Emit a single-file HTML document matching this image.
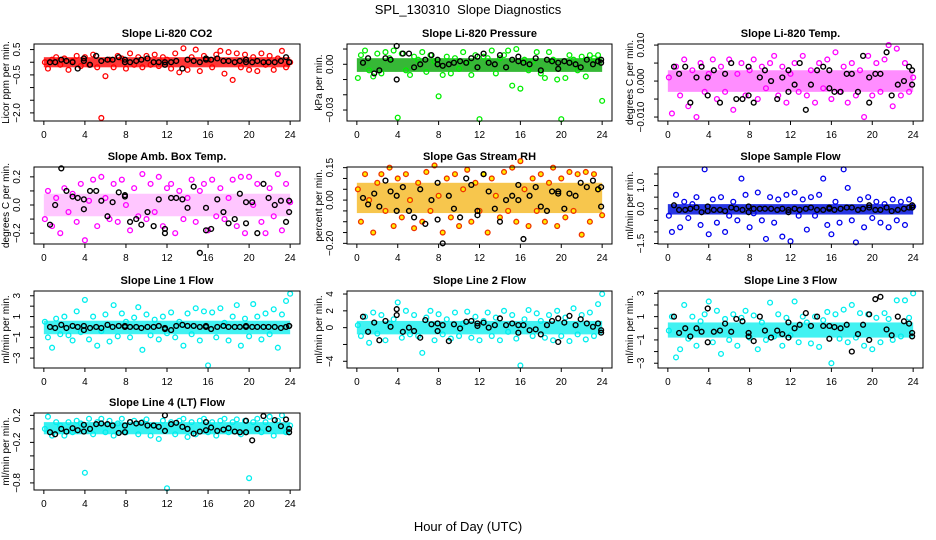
<!DOCTYPE html>
<html><head><meta charset="utf-8"><style>
body{margin:0;background:#fff;}
svg{display:block;font-family:"Liberation Sans",Arial,sans-serif;}
</style></head><body>
<svg id="chart" width="936" height="540" viewBox="0 0 936 540" xmlns="http://www.w3.org/2000/svg">
<rect width="936" height="540" fill="#fff"/>
<text x="468" y="14" text-anchor="middle" font-size="13">SPL_130310&#160; Slope Diagnostics</text>
<text x="468" y="531" text-anchor="middle" font-size="13">Hour of Day (UTC)</text>
</svg>
<script>
const xTicks = [0,4,8,12,16,20,24];
const colorHours = [0.1,0.4,0.8,1.2,1.6,2.0,2.4,2.8,3.2,3.6,4.0,4.4,4.8,5.2,5.6,6.0,6.4,6.8,7.2,7.6,8.0,8.4,8.8,9.2,9.6,10.0,10.4,10.8,11.2,11.6,12.0,12.4,12.8,13.2,13.6,14.0,14.4,14.8,15.2,15.6,16.0,16.4,16.8,17.2,17.6,18.0,18.4,18.8,19.2,19.6,20.0,20.4,20.8,21.2,21.6,22.0,22.4,22.8,23.2,23.6,24.0];
const blackHours = [0.6,1.1,1.7,2.2,2.8,3.3,3.9,3.9,4.5,5.1,5.6,6.2,6.7,7.3,7.9,7.9,8.4,9.0,9.5,10.1,10.7,11.2,11.8,11.8,12.4,12.9,13.5,14.0,14.6,15.2,15.8,15.8,16.3,16.9,17.5,18.0,18.6,19.1,19.7,19.7,20.3,20.8,21.4,21.9,22.5,23.1,23.6,23.9,23.9];

const co2Vals = [0.0,-0.25,0.1,0.2,-0.1,0.15,-0.3,0.05,0.25,-0.15,0.2,-0.1,0.3,-0.2,-2.2,-0.55,0.1,-0.2,0.25,0.15,-0.25,0.35,-0.1,0.2,-0.2,0.25,-0.1,0.3,-0.15,0.2,0.1,-0.25,0.35,-0.4,0.55,-0.3,0.2,0.5,-0.35,0.25,0.1,-0.2,0.3,0.45,-0.45,0.4,-0.7,0.35,-0.2,0.3,-0.3,0.2,-0.35,0.35,-0.1,0.25,-0.3,0.15,0.45,-0.2,0.0];
const co2Black = [0.0,0.0,0.1,0.05,0.0,-0.25,0.15,0.05,-0.1,0.25,0.05,0.1,0.1,0.2,0.1,0.0,0.0,0.05,0.1,0.15,0.0,0.0,0.0,-0.1,0.0,0.05,-0.25,0.1,0.05,0.0,0.1,0.15,0.1,0.15,0.05,0.05,0.0,0.05,0.1,0.0,0.0,0.05,0.0,0.0,0.0,0.05,0.2,0.0,0.0];
const presVals = [-0.009,0.006,0.009,-0.004,-0.008,0.007,-0.006,0.008,0.004,0.009,-0.035,0.007,-0.004,-0.007,0.005,0.003,0.008,-0.005,0.006,0.002,-0.021,-0.007,0.005,-0.006,0.004,-0.003,0.008,0.001,-0.007,0.006,-0.036,0.005,0.004,0.009,-0.006,0.004,0.006,0.009,-0.014,0.010,-0.016,0.003,-0.004,0.002,0.008,-0.006,-0.009,0.008,0.003,-0.010,-0.036,-0.009,0.006,0.003,-0.004,0.005,-0.008,0.006,0.004,0.006,-0.024];
const presBlack = [0.001,0.004,-0.006,-0.004,0.004,0.003,0.012,-0.010,0.007,0.007,-0.002,0.000,0.003,0.006,0.000,0.003,-0.001,0.000,0.001,0.002,0.001,0.004,0.005,-0.002,0.007,0.001,0.000,0.006,-0.002,0.003,0.005,0.002,0.001,0.000,0.004,-0.004,0.003,0.002,0.001,-0.003,0.002,0.001,0.000,-0.002,0.003,0.000,0.002,0.003,0.001];
const tempVals = [0.001,-0.009,0.004,-0.004,0.006,-0.007,0.003,-0.010,0.005,-0.003,0.002,0.006,-0.005,0.004,-0.003,0.006,-0.008,0.002,0.005,-0.004,0.003,0.006,-0.005,0.004,-0.002,0.005,0.007,-0.004,0.004,-0.006,0.002,0.005,-0.003,0.007,-0.004,0.003,-0.006,0.005,-0.002,0.006,-0.005,0.008,-0.003,0.004,-0.006,0.005,-0.004,0.003,-0.010,0.007,-0.004,0.005,-0.003,0.006,0.010,-0.007,0.009,-0.004,0.005,-0.003,0.001];
const tempBlack = [0.004,0.002,0.004,-0.006,0.001,0.004,0.001,-0.004,0.003,-0.006,0.002,0.005,-0.005,-0.005,-0.004,0.004,-0.006,0.001,0.003,0.000,-0.005,0.001,-0.003,0.003,-0.001,0.005,-0.008,-0.001,0.003,0.004,-0.002,0.003,-0.003,-0.003,0.002,0.002,-0.003,0.007,-0.006,0.001,0.002,0.002,0.008,-0.004,-0.001,0.000,0.004,0.003,-0.001];
const ambVals = [-0.1,0.1,-0.15,0.05,-0.2,0.12,-0.05,0.08,-0.12,0.15,-0.25,0.03,0.18,-0.15,0.2,0.05,-0.1,0.15,-0.12,0.18,0.0,-0.18,0.12,-0.08,0.22,-0.1,0.15,-0.05,0.2,-0.15,0.12,0.15,-0.2,0.1,-0.1,0.05,0.18,-0.12,0.1,0.15,-0.18,0.18,-0.08,0.12,-0.1,0.05,0.18,-0.15,0.2,-0.2,0.2,0.0,0.15,-0.12,-0.2,0.12,-0.08,0.22,-0.18,0.15,0.02];
const ambBlack = [-0.14,0.0,0.26,0.1,0.06,0.05,0.04,-0.03,0.1,0.1,0.03,-0.08,0.02,0.09,0.07,0.06,-0.12,-0.1,-0.14,-0.05,-0.15,0.04,-0.2,-0.17,0.05,0.05,0.04,-0.02,0.13,-0.34,-0.02,-0.18,-0.17,0.04,-0.05,-0.13,-0.1,0.08,0.02,-0.13,0.02,-0.2,0.15,0.05,0.0,0.03,-0.12,-0.05,0.03];
const rhVals = [0.05,-0.1,0.12,0.0,-0.15,0.08,0.12,-0.05,0.15,-0.12,0.1,-0.08,0.12,0.0,-0.13,0.08,-0.1,0.13,-0.05,0.16,0.02,-0.15,0.1,-0.08,0.12,-0.12,0.05,0.14,-0.1,0.08,-0.05,0.12,-0.15,0.1,0.02,-0.08,0.13,-0.05,0.15,-0.1,0.18,0.05,-0.12,0.1,-0.05,0.12,-0.1,0.08,0.15,-0.12,0.1,-0.08,0.13,-0.05,0.12,-0.16,0.13,-0.1,0.12,0.05,-0.07];
const rhBlack = [0.01,-0.02,0.03,-0.03,0.09,0.04,0.02,-0.05,0.06,-0.05,-0.08,0.05,-0.11,0.0,-0.09,0.08,-0.2,0.02,-0.04,-0.08,0.1,0.07,-0.05,-0.07,0.12,0.04,-0.04,-0.1,0.0,0.02,0.07,0.0,-0.18,0.02,0.06,-0.03,-0.05,0.04,0.03,0.04,-0.04,0.03,0.02,0.08,0.06,0.09,0.05,0.06,-0.03];
const flowVals = [-0.3,-1.0,0.6,-0.8,0.3,-0.4,0.2,0.5,-0.7,1.7,-1.1,0.4,-0.6,0.5,-1.0,-0.3,0.3,-0.5,1.3,0.6,-0.8,-0.2,0.7,-0.5,-1.3,0.5,-0.6,0.4,-1.2,0.6,-1.4,0.7,-0.3,0.4,-0.9,0.5,-0.3,0.6,1.3,-0.7,-1.1,0.3,-0.6,1.7,0.9,-0.5,-1.45,0.4,-0.8,0.5,-0.4,0.3,-0.6,0.2,-0.8,0.4,-0.5,0.3,-0.7,0.4,0.1];
const flowBlack = [0.15,-0.05,-0.05,0.0,0.05,-0.15,-0.1,0.1,-0.05,-0.05,-0.1,0.05,0.0,-0.05,-0.15,0.1,0.0,0.0,0.0,0.0,-0.05,0.0,-0.05,-0.15,0.0,-0.05,0.0,0.05,-0.05,-0.05,0.0,0.05,-0.05,0.0,0.05,0.05,-0.05,0.0,0.15,0.05,-0.05,-0.05,0.05,-0.1,-0.05,0.0,0.05,0.15,0.05];
const l1Vals = [0.5,-1.0,-2.0,0.8,-0.7,1.0,-0.8,-1.3,1.5,-0.5,2.6,-1.2,1.0,-1.8,-0.4,1.2,-1.4,2.1,-0.9,1.3,0.5,-1.0,0.9,1.9,-2.2,1.2,-0.8,0.7,-1.2,1.0,-0.6,1.4,-1.0,0.5,-1.8,1.3,-0.7,1.8,-1.3,1.5,-3.7,1.4,-1.0,1.8,0.4,-1.3,1.0,2.1,-1.8,0.8,-0.9,2.2,1.0,-1.2,1.3,-0.7,1.7,-2.0,1.2,2.5,3.2];
const l1Black = [0.0,-0.1,0.2,-0.1,0.1,0.0,0.1,-0.3,-0.1,0.0,-0.1,0.2,0.0,0.1,0.0,0.1,0.0,0.0,-0.1,0.0,0.0,0.1,-0.1,-0.2,-0.3,0.1,0.2,0.1,0.1,0.0,0.1,0.0,-0.2,0.0,0.1,0.0,0.0,0.0,0.1,0.0,0.0,0.0,0.0,0.0,0.0,-0.1,0.0,0.1,0.1];
const l2Vals = [0.3,-1.0,1.3,-1.8,1.8,-0.7,1.5,-1.5,0.5,1.0,3.0,-1.2,2.0,-0.8,1.5,-1.0,-3.0,1.2,2.0,-1.5,1.6,-0.8,1.0,-1.3,1.8,-1.0,0.5,1.9,-1.2,1.3,-1.5,0.8,1.8,-1.0,1.2,-1.5,2.0,-0.5,1.5,-1.3,-4.5,1.0,2.1,-1.0,1.7,0.8,-1.2,1.5,-1.5,2.0,-1.0,1.2,-1.6,2.3,-0.8,1.5,-1.4,1.8,-1.0,2.8,4.0];
const l2Black = [1.3,-0.5,0.6,-1.5,0.8,0.1,2.2,1.5,-0.5,0.0,-0.4,-1.2,0.9,0.4,0.5,-0.4,0.3,-1.6,0.4,-0.1,0.7,0.8,0.5,0.2,0.6,0.0,0.3,1.1,0.3,0.5,0.3,-0.6,0.3,-0.3,-0.2,-0.8,0.3,0.8,-1.7,1.1,0.6,1.4,0.3,1.0,0.5,0.1,0.5,-0.3,-0.6];
const l3Vals = [-0.2,1.0,-2.5,-1.8,2.0,-0.9,1.0,-1.5,0.6,1.2,2.3,-1.2,1.5,-2.2,0.8,-1.0,1.2,-1.5,0.9,1.5,-0.8,1.1,-1.8,0.5,-1.0,2.2,-0.7,1.2,-1.5,0.9,-0.6,2.3,-1.2,1.0,0.5,-1.3,1.0,-1.6,0.7,1.4,-3.0,1.2,-0.9,1.6,-1.2,2.0,-0.8,1.3,-1.5,1.2,-1.8,0.9,-1.2,1.3,0.8,-1.0,2.4,-0.7,2.4,0.9,3.0];
const l3Black = [1.0,-0.4,0.0,-0.7,0.0,-0.3,1.7,-1.2,-0.3,-0.2,0.4,-0.3,0.8,0.6,-0.4,-0.7,-1.1,1.0,-0.2,-0.8,-0.2,-0.5,0.5,-0.8,0.0,0.3,1.3,0.2,1.0,0.2,0.2,-0.9,0.1,0.0,0.3,-2.0,-0.5,0.3,1.2,-1.0,2.5,2.7,-0.1,-0.6,1.0,0.6,0.4,-0.4,-0.7];
const l4Vals = [0.0,0.18,-0.1,0.1,0.05,-0.1,0.1,-0.05,0.12,0.08,-0.65,0.15,-0.08,0.1,0.15,-0.05,0.12,-0.1,0.08,0.15,-0.05,0.1,0.12,-0.08,0.1,0.14,-0.1,0.05,-0.15,0.12,-0.88,0.1,-0.08,0.12,0.15,-0.12,0.1,-0.08,0.12,0.15,-0.05,0.1,-0.1,0.12,0.15,-0.05,0.1,0.14,-0.08,0.12,-0.73,0.1,0.15,-0.05,0.1,0.18,-0.1,0.12,0.2,-0.05,0.05];
const l4Black = [-0.05,-0.08,0.0,-0.04,0.01,-0.02,-0.04,0.06,0.0,0.07,0.08,0.07,0.05,-0.06,0.05,-0.05,0.1,0.08,0.09,0.05,0.05,0.03,0.2,-0.03,0.07,0.09,0.03,0.0,-0.07,-0.04,0.1,-0.02,0.02,-0.03,-0.01,0.01,-0.04,-0.05,0.12,-0.05,-0.17,0.0,0.19,0.0,0.13,0.04,0.14,0.0,-0.05];
const coreLo = [-0.2,-0.005,-0.003,-0.08,-0.06,-0.25,-0.7,-0.8,-0.8,-0.08];
const coreHi = [0.2,0.004,0.003,0.08,0.08,0.2,0.6,0.8,0.5,0.1];
const coreOpacity = [0.9,0.9,0.55,0.45,0.8,0.9,0.85,0.85,0.85,0.9];

const panels = [
 {name:'co2',title:'Slope Li-820 CO2',ylab:'Licor ppm per min.',col:0,row:0,top:0.72,bot:-2.32,ticks:[0.5,0,-0.5,-1,-1.5,-2],labels:{'0.5':'0.5','-0.5':'−0.5','-2':'−2.0'},vals:co2Vals,black:co2Black,stroke:'#ff0000',fill:'none',band:'#ff2020'},
 {name:'pressure',title:'Slope Li-820 Pressure',ylab:'kPa per min.',col:1,row:0,top:0.0133,bot:-0.0372,ticks:[0.01,0,-0.01,-0.02,-0.03],labels:{'0':'0.00','-0.03':'−0.03'},vals:presVals,black:presBlack,stroke:'#00ee00',fill:'none',band:'#20b020'},
 {name:'temp',title:'Slope Li-820 Temp.',ylab:'degrees C per min.',col:2,row:0,top:0.0103,bot:-0.0111,ticks:[0.01,0.005,0,-0.005,-0.01],labels:{'0.01':'0.010','0':'0.000','-0.01':'−0.010'},vals:tempVals,black:tempBlack,stroke:'#ff00ff',fill:'none',band:'#ff30ff'},
 {name:'amb-box-temp',title:'Slope Amb. Box Temp.',ylab:'degrees C per min.',col:0,row:1,top:0.27,bot:-0.277,ticks:[0.2,0.1,0,-0.1,-0.2],labels:{'0.2':'0.2','0':'0.0','-0.2':'−0.2'},vals:ambVals,black:ambBlack,stroke:'#ff00ff',fill:'none',band:'#ff80ff'},
 {name:'gas-stream-rh',title:'Slope Gas Stream RH',ylab:'percent per min.',col:1,row:1,top:0.153,bot:-0.203,ticks:[0.15,0.1,0.05,0,-0.05,-0.1,-0.15,-0.2],labels:{'0.15':'0.15','0':'0.00','-0.2':'−0.20'},vals:rhVals,black:rhBlack,stroke:'#ee3300',fill:'#ffee00',band:'#f5b820'},
 {name:'sample-flow',title:'Slope Sample Flow',ylab:'ml/min per min.',col:2,row:1,top:1.8,bot:-1.52,ticks:[1.5,1,0.5,0,-0.5,-1,-1.5],labels:{'1':'1.0','0':'0.0','-1.5':'−1.5'},vals:flowVals,black:flowBlack,stroke:'#0000ee',fill:'none',band:'#1020e0'},
 {name:'line1-flow',title:'Slope Line 1 Flow',ylab:'ml/min per min.',col:0,row:2,top:3.46,bot:-3.95,ticks:[3,2,1,0,-1,-2,-3],labels:{'3':'3','1':'1','-1':'−1','-3':'−3'},vals:l1Vals,black:l1Black,stroke:'#00eeee',fill:'none',band:'#20f0f0'},
 {name:'line2-flow',title:'Slope Line 2 Flow',ylab:'ml/min per min.',col:1,row:2,top:4.36,bot:-4.8,ticks:[4,2,0,-2,-4],labels:{'4':'4','2':'2','0':'0','-4':'−4'},vals:l2Vals,black:l2Black,stroke:'#00eeee',fill:'none',band:'#20f0f0'},
 {name:'line3-flow',title:'Slope Line 3 Flow',ylab:'ml/min per min.',col:2,row:2,top:3.2,bot:-3.41,ticks:[3,2,1,0,-1,-2,-3],labels:{'3':'3','1':'1','-1':'−1','-3':'−3'},vals:l3Vals,black:l3Black,stroke:'#00eeee',fill:'none',band:'#20f0f0'},
 {name:'line4-lt-flow',title:'Slope Line 4 (LT) Flow',ylab:'ml/min per min.',col:0,row:3,top:0.235,bot:-0.905,ticks:[0.2,0,-0.2,-0.4,-0.6,-0.8],labels:{'0.2':'0.2','-0.2':'−0.2','-0.8':'−0.8'},vals:l4Vals,black:l4Black,stroke:'#00eeee',fill:'none',band:'#20f0f0'}
];
const colLeft = [34,347,658];
const boxW = [266,265,265];
const rowTop = [44,167,291,413];
const boxH = 77;
const NS = 'http://www.w3.org/2000/svg';
const svg = document.getElementById('chart');
function mk(tag, attrs, parent){
  const e = document.createElementNS(NS, tag);
  for (const k in attrs) e.setAttribute(k, attrs[k]);
  (parent||svg).appendChild(e);
  return e;
}
panels.forEach((p, pi) => {
  const L = colLeft[p.col], T = rowTop[p.row], W = boxW[p.col], H = boxH;
  const xs = h => L + 9.85 + h * (W - 19.7) / 24;
  const ys = v => T + (p.top - v) / (p.top - p.bot) * H;
  const g = mk('g', {});
  
  
  const t = mk('text', {x: L + W/2, y: T - 7, 'text-anchor':'middle','font-size':'11','font-weight':'bold'}, g);
  t.textContent = p.title;
  
  
  const b = mk('rect', {x: xs(0), y: ys(coreHi[pi]), width: xs(24)-xs(0), height: ys(coreLo[pi]) - ys(coreHi[pi]), fill: p.band, opacity: coreOpacity[pi]}, g);
  
  
  const n = Math.min(colorHours.length, p.vals.length);
  for (let i = 0; i < n; i++) {
    const c = mk('circle', {cx: xs(colorHours[i]), cy: ys(p.vals[i]), r: 2.4, fill: p.fill, stroke: p.stroke, 'stroke-width': 1.3}, g);
    
    
  }
  const m = Math.min(blackHours.length, p.black.length);
  for (let i = 0; i < m; i++) {
    const c = mk('circle', {cx: xs(blackHours[i]), cy: ys(p.black[i]), r: 2.4, fill: 'none', stroke: '#000', 'stroke-width': 1.4}, g);
    
    
  }
  const box = mk('rect', {x: L, y: T, width: W, height: H, fill: 'none', stroke: '#000', 'stroke-width': 1}, g);
  
  
  mk('line', {x1: xs(0), x2: xs(24), y1: T+H, y2: T+H, stroke:'#000'}, g);
  xTicks.forEach(v => {
    mk('line', {x1: xs(v), x2: xs(v), y1: T+H, y2: T+H+4, stroke:'#000'}, g);
    const tl = mk('text', {x: xs(v), y: T+H+17, 'text-anchor':'middle','font-size':'10'}, g);
    tl.textContent = v;
    
    
  });
  const tmax = Math.max(...p.ticks), tmin = Math.min(...p.ticks);
  mk('line', {x1: L, x2: L, y1: ys(tmax), y2: ys(tmin), stroke:'#000'}, g);
  p.ticks.forEach(v => {
    mk('line', {x1: L-4, x2: L, y1: ys(v), y2: ys(v), stroke:'#000'}, g);
    const key = String(Math.round(v*1000)/1000);
    if (p.labels[key] !== undefined) {
      const tx = L - 14, ty = ys(v);
      const yl = mk('text', {x: tx, y: ty, 'text-anchor':'middle','font-size':'10', transform: 'rotate(-90 '+tx+' '+ty+')'}, g);
      yl.textContent = p.labels[key];
      
      
    }
  });
  const ax = L - 25, ay = T + H/2;
  const yt = mk('text', {x: ax, y: ay, 'text-anchor':'middle','font-size':'10', transform: 'rotate(-90 '+ax+' '+ay+')'}, g);
  yt.textContent = p.ylab;
  
  
});
</script>
</body></html>
